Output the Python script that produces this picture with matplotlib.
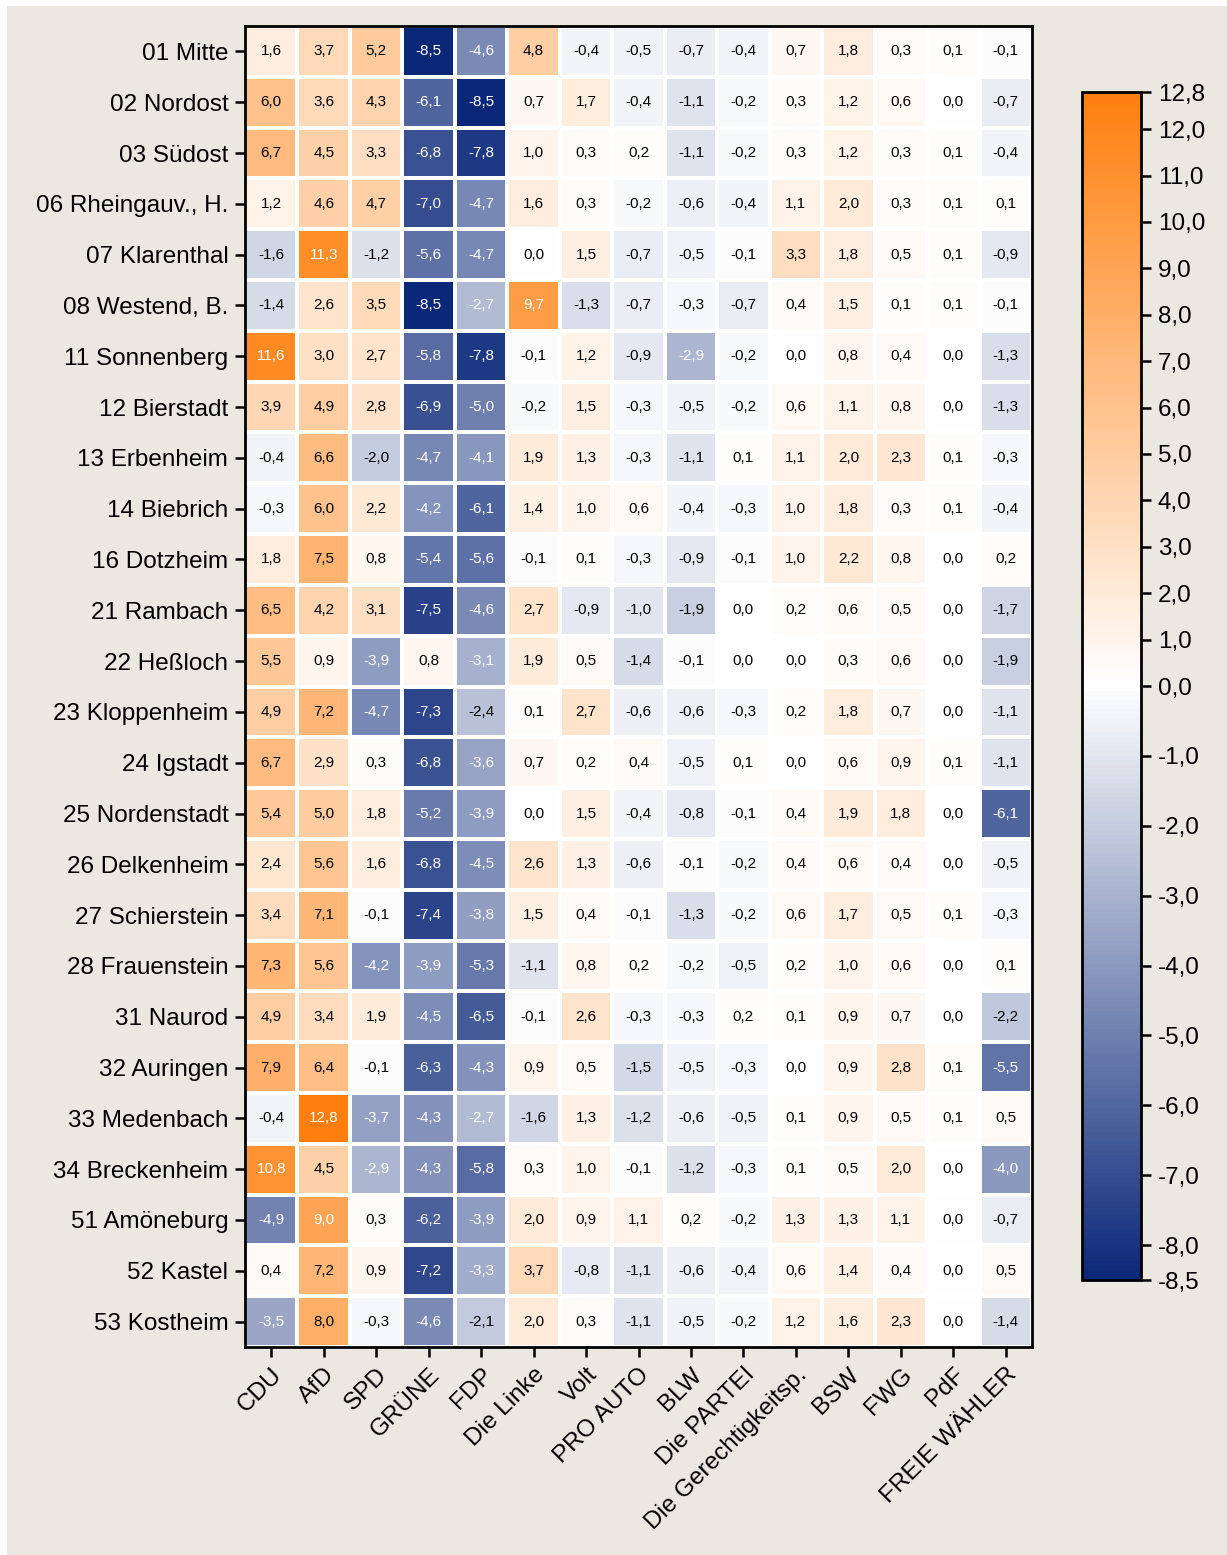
import numpy as np
import matplotlib
matplotlib.use('Agg')
import matplotlib.pyplot as plt
from matplotlib.colors import LinearSegmentedColormap, TwoSlopeNorm
from matplotlib.patches import Rectangle
from matplotlib.ticker import FuncFormatter

plt.rcParams['font.family'] = ['Liberation Sans', 'DejaVu Sans']

districts = ['01 Mitte', '02 Nordost', '03 Südost', '06 Rheingauv., H.', '07 Klarenthal',
             '08 Westend, B.', '11 Sonnenberg', '12 Bierstadt', '13 Erbenheim', '14 Biebrich',
             '16 Dotzheim', '21 Rambach', '22 Heßloch', '23 Kloppenheim', '24 Igstadt',
             '25 Nordenstadt', '26 Delkenheim', '27 Schierstein', '28 Frauenstein', '31 Naurod',
             '32 Auringen', '33 Medenbach', '34 Breckenheim', '51 Amöneburg', '52 Kastel',
             '53 Kostheim']
parties = ['CDU', 'AfD', 'SPD', 'GRÜNE', 'FDP', 'Die Linke', 'Volt', 'PRO AUTO', 'BLW',
           'Die PARTEI', 'Die Gerechtigkeitsp.', 'BSW', 'FWG', 'PdF', 'FREIE WÄHLER']

# change in percentage points, one list per party (rows = districts)
cdu = [1.6, 6.0, 6.7, 1.2, -1.6, -1.4, 11.6, 3.9, -0.4, -0.3, 1.8, 6.5, 5.5, 4.9, 6.7, 5.4,
       2.4, 3.4, 7.3, 4.9, 7.9, -0.4, 10.8, -4.9, 0.4, -3.5]
afd = [3.7, 3.6, 4.5, 4.6, 11.3, 2.6, 3.0, 4.9, 6.6, 6.0, 7.5, 4.2, 0.9, 7.2, 2.9, 5.0,
       5.6, 7.1, 5.6, 3.4, 6.4, 12.8, 4.5, 9.0, 7.2, 8.0]
spd = [5.2, 4.3, 3.3, 4.7, -1.2, 3.5, 2.7, 2.8, -2.0, 2.2, 0.8, 3.1, -3.9, -4.7, 0.3, 1.8,
       1.6, -0.1, -4.2, 1.9, -0.1, -3.7, -2.9, 0.3, 0.9, -0.3]
gruene = [-8.5, -6.1, -6.8, -7.0, -5.6, -8.5, -5.8, -6.9, -4.7, -4.2, -5.4, -7.5, 0.8, -7.3,
          -6.8, -5.2, -6.8, -7.4, -3.9, -4.5, -6.3, -4.3, -4.3, -6.2, -7.2, -4.6]
fdp = [-4.6, -8.5, -7.8, -4.7, -4.7, -2.7, -7.8, -5.0, -4.1, -6.1, -5.6, -4.6, -3.1, -2.4,
       -3.6, -3.9, -4.5, -3.8, -5.3, -6.5, -4.3, -2.7, -5.8, -3.9, -3.3, -2.1]
linke = [4.8, 0.7, 1.0, 1.6, 0.0, 9.7, -0.1, -0.2, 1.9, 1.4, -0.1, 2.7, 1.9, 0.1, 0.7, 0.0,
         2.6, 1.5, -1.1, -0.1, 0.9, -1.6, 0.3, 2.0, 3.7, 2.0]
volt = [-0.4, 1.7, 0.3, 0.3, 1.5, -1.3, 1.2, 1.5, 1.3, 1.0, 0.1, -0.9, 0.5, 2.7, 0.2, 1.5,
        1.3, 0.4, 0.8, 2.6, 0.5, 1.3, 1.0, 0.9, -0.8, 0.3]
pro_auto = [-0.5, -0.4, 0.2, -0.2, -0.7, -0.7, -0.9, -0.3, -0.3, 0.6, -0.3, -1.0, -1.4, -0.6,
            0.4, -0.4, -0.6, -0.1, 0.2, -0.3, -1.5, -1.2, -0.1, 1.1, -1.1, -1.1]
blw = [-0.7, -1.1, -1.1, -0.6, -0.5, -0.3, -2.9, -0.5, -1.1, -0.4, -0.9, -1.9, -0.1, -0.6,
       -0.5, -0.8, -0.1, -1.3, -0.2, -0.3, -0.5, -0.6, -1.2, 0.2, -0.6, -0.5]
partei = [-0.4, -0.2, -0.2, -0.4, -0.1, -0.7, -0.2, -0.2, 0.1, -0.3, -0.1, 0.0, 0.0, -0.3,
          0.1, -0.1, -0.2, -0.2, -0.5, 0.2, -0.3, -0.5, -0.3, -0.2, -0.4, -0.2]
gerecht = [0.7, 0.3, 0.3, 1.1, 3.3, 0.4, 0.0, 0.6, 1.1, 1.0, 1.0, 0.2, 0.0, 0.2, 0.0, 0.4,
           0.4, 0.6, 0.2, 0.1, 0.0, 0.1, 0.1, 1.3, 0.6, 1.2]
bsw = [1.8, 1.2, 1.2, 2.0, 1.8, 1.5, 0.8, 1.1, 2.0, 1.8, 2.2, 0.6, 0.3, 1.8, 0.6, 1.9,
       0.6, 1.7, 1.0, 0.9, 0.9, 0.9, 0.5, 1.3, 1.4, 1.6]
fwg = [0.3, 0.6, 0.3, 0.3, 0.5, 0.1, 0.4, 0.8, 2.3, 0.3, 0.8, 0.5, 0.6, 0.7, 0.9, 1.8,
       0.4, 0.5, 0.6, 0.7, 2.8, 0.5, 2.0, 1.1, 0.4, 2.3]
pdf = [0.1, 0.0, 0.1, 0.1, 0.1, 0.1, 0.0, 0.0, 0.1, 0.1, 0.0, 0.0, 0.0, 0.0, 0.1, 0.0,
       0.0, 0.1, 0.0, 0.0, 0.1, 0.1, 0.0, 0.0, 0.0, 0.0]
freie_waehler = [-0.1, -0.7, -0.4, 0.1, -0.9, -0.1, -1.3, -1.3, -0.3, -0.4, 0.2, -1.7, -1.9,
                 -1.1, -1.1, -6.1, -0.5, -0.3, 0.1, -2.2, -5.5, 0.5, -4.0, -0.7, 0.5, -1.4]

cbar_ticks = [-8.5, -8, -7, -6, -5, -4, -3, -2, -1, 0, 1, 2, 3, 4, 5, 6, 7, 8, 9, 10, 11, 12, 12.8]

data = np.column_stack([cdu, afd, spd, gruene, fdp, linke, volt, pro_auto, blw, partei,
                        gerecht, bsw, fwg, pdf, freie_waehler])

cmap = LinearSegmentedColormap.from_list('bo', ['#0b2878', '#ffffff', '#ff7f0e'])
norm = TwoSlopeNorm(vmin=data.min(), vcenter=0, vmax=data.max())

fig = plt.figure(figsize=(12.27, 15.55), dpi=100, facecolor='white')
fig.patches.append(Rectangle((7 / 1227, 0), 1, 1 - 6 / 1555, transform=fig.transFigure,
                             facecolor='#ebe8e1', edgecolor='none', zorder=-1))

ax = fig.add_axes([245 / 1227, 1 - 1347 / 1555, 787 / 1227, 1321 / 1555])
mesh = ax.pcolormesh(data, cmap=cmap, norm=norm, edgecolors='white', linewidth=1.5)
ax.set_xlim(0, data.shape[1])
ax.set_ylim(data.shape[0], 0)

for i in range(data.shape[0]):
    for j in range(data.shape[1]):
        v = data[i, j]
        col = 'white' if (v <= -2.5 or v >= 8.5) else 'black'
        ax.text(j + 0.5, i + 0.5, f'{v:.1f}'.replace('.', ','), ha='center', va='center',
                fontsize=11, color=col)

ax.set_xticks(np.arange(data.shape[1]) + 0.5)
ax.set_xticklabels(parties, rotation=45, ha='right', rotation_mode='anchor', fontsize=17.5)
ax.set_yticks(np.arange(data.shape[0]) + 0.5)
ax.set_yticklabels(districts, fontsize=17.5)
ax.tick_params(length=7, width=1.8, pad=5)
for s in ax.spines.values():
    s.set_linewidth(2)

cax = fig.add_axes([1082 / 1227, 1 - 1280 / 1555, 59 / 1227, 1188 / 1555])
cb = fig.colorbar(mesh, cax=cax, ticks=cbar_ticks)
cb.ax.yaxis.set_major_formatter(FuncFormatter(lambda x, p: f'{x:.1f}'.replace('.', ',')))
cb.ax.tick_params(labelsize=17.5, length=7, width=1.8, pad=5)
cb.ax.minorticks_off()
cb.outline.set_linewidth(2)

fig.savefig('out.png', dpi=100, facecolor=fig.get_facecolor())
